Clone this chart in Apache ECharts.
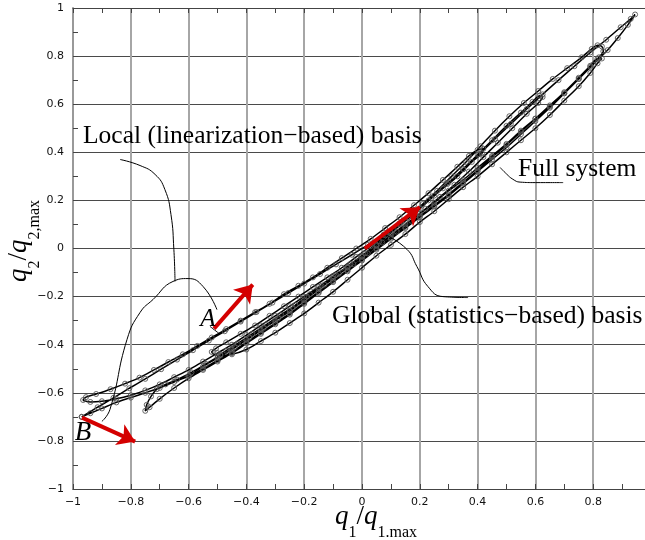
<!DOCTYPE html>
<html>
<head>
<meta charset="utf-8">
<script src="https://cdn.jsdelivr.net/npm/echarts@6/dist/echarts.min.js"></script>
<style>
  html, body { margin: 0; padding: 0; background: #fff; }
  #chart { width: 645px; height: 540px; }
</style>
</head>
<body>
<div id="chart"></div>
<script>
// trajectory of the full system
var swingUpB = [[-0.97,-0.70],[-0.915,-0.66],[-0.86,-0.621],[-0.805,-0.581],[-0.75,-0.542],[-0.695,-0.502],[-0.64,-0.462],[-0.585,-0.423],[-0.53,-0.383],[-0.475,-0.344],[-0.42,-0.304],[-0.365,-0.264],[-0.31,-0.225],[-0.255,-0.185],[-0.2,-0.146],[-0.145,-0.106],[-0.09,-0.066],[-0.035,-0.026],[0.02,0.015],[0.075,0.058],[0.13,0.105],[0.185,0.155],[0.24,0.21],[0.295,0.268],[0.35,0.33],[0.405,0.392],[0.46,0.455],[0.515,0.518],[0.57,0.58],[0.625,0.641],[0.68,0.70],[0.735,0.758],[0.79,0.815],[0.845,0.868],[0.895,0.92],[0.93,0.955],[0.945,0.973]];
var swingDownTip = [[0.92,0.93],[0.885,0.875],[0.85,0.825],[0.8,0.765],[0.75,0.705],[0.7,0.645],[0.65,0.585],[0.6,0.53],[0.55,0.475],[0.5,0.42],[0.45,0.37],[0.4,0.32],[0.35,0.27],[0.3,0.22],[0.25,0.175],[0.2,0.13],[0.15,0.085],[0.1,0.04],[0.05,-0.005],[0,-0.05],[-0.05,-0.095],[-0.1,-0.14],[-0.15,-0.185],[-0.2,-0.23],[-0.25,-0.275],[-0.3,-0.315],[-0.35,-0.355],[-0.4,-0.395],[-0.45,-0.435],[-0.5,-0.47],[-0.55,-0.505],[-0.6,-0.54],[-0.65,-0.58],[-0.7,-0.625],[-0.735,-0.66],[-0.75,-0.675],[-0.745,-0.65],[-0.73,-0.615],[-0.71,-0.585],[-0.68,-0.565]];
var swingUpHook = [[-0.64,-0.545],[-0.59,-0.515],[-0.54,-0.48],[-0.49,-0.445],[-0.44,-0.41],[-0.39,-0.37],[-0.34,-0.33],[-0.29,-0.29],[-0.24,-0.245],[-0.19,-0.2],[-0.14,-0.155],[-0.09,-0.11],[-0.04,-0.065],[0.01,-0.02],[0.06,0.03],[0.11,0.08],[0.16,0.13],[0.21,0.185],[0.26,0.24],[0.31,0.30],[0.36,0.36],[0.41,0.425],[0.46,0.49],[0.51,0.55],[0.56,0.605],[0.61,0.655],[0.66,0.705],[0.71,0.75],[0.76,0.795],[0.795,0.83],[0.815,0.845],[0.83,0.84],[0.835,0.82]];
var swingDownHook = [[0.82,0.795],[0.79,0.755],[0.75,0.705],[0.7,0.645],[0.65,0.59],[0.6,0.54],[0.55,0.49],[0.5,0.435],[0.45,0.385],[0.4,0.335],[0.35,0.285],[0.3,0.24],[0.25,0.19],[0.2,0.145],[0.15,0.1],[0.1,0.055],[0.05,0.01],[0,-0.03],[-0.05,-0.075],[-0.1,-0.115],[-0.15,-0.16],[-0.2,-0.2],[-0.25,-0.24],[-0.3,-0.28],[-0.35,-0.32],[-0.4,-0.36],[-0.45,-0.4],[-0.5,-0.435],[-0.55,-0.47],[-0.6,-0.505],[-0.65,-0.535],[-0.7,-0.565],[-0.75,-0.59],[-0.8,-0.61],[-0.85,-0.625],[-0.9,-0.635],[-0.94,-0.638],[-0.965,-0.63]];
var swingUpLeft = [[-0.955,-0.618],[-0.92,-0.605],[-0.87,-0.585],[-0.82,-0.562],[-0.77,-0.537],[-0.72,-0.505],[-0.67,-0.472],[-0.62,-0.44],[-0.57,-0.405],[-0.52,-0.37],[-0.47,-0.335],[-0.42,-0.3],[-0.37,-0.265],[-0.32,-0.23],[-0.27,-0.19],[-0.22,-0.155],[-0.17,-0.12],[-0.12,-0.08],[-0.07,-0.04],[-0.02,0],[0.03,0.04],[0.08,0.085],[0.13,0.13],[0.18,0.18],[0.23,0.23],[0.28,0.285],[0.33,0.34],[0.37,0.385],[0.4,0.41],[0.42,0.415]];
var swingDownKnot = [[0.415,0.395],[0.38,0.36],[0.33,0.3],[0.28,0.25],[0.23,0.2],[0.18,0.15],[0.13,0.1],[0.08,0.055],[0.03,0.01],[-0.02,-0.035],[-0.07,-0.08],[-0.12,-0.12],[-0.17,-0.16],[-0.22,-0.2],[-0.27,-0.24],[-0.32,-0.28],[-0.37,-0.32],[-0.42,-0.355],[-0.47,-0.39],[-0.505,-0.415],[-0.52,-0.43]];
var swingUpLow = [[-0.5,-0.445],[-0.45,-0.44],[-0.4,-0.42],[-0.35,-0.385],[-0.3,-0.35],[-0.25,-0.31],[-0.2,-0.27],[-0.15,-0.225],[-0.1,-0.18],[-0.05,-0.13],[0,-0.08],[0.05,-0.03],[0.1,0.015],[0.15,0.06],[0.2,0.11],[0.25,0.155],[0.3,0.205],[0.35,0.255],[0.4,0.3],[0.45,0.35],[0.5,0.4],[0.55,0.45],[0.6,0.5],[0.65,0.555],[0.7,0.615],[0.75,0.675],[0.79,0.73],[0.815,0.77],[0.83,0.79]];
var swingDownB = [[0.815,0.79],[0.79,0.76],[0.75,0.71],[0.7,0.65],[0.65,0.595],[0.6,0.54],[0.55,0.485],[0.5,0.43],[0.45,0.38],[0.4,0.325],[0.35,0.275],[0.3,0.225],[0.25,0.18],[0.2,0.135],[0.15,0.09],[0.1,0.045],[0.05,0],[0,-0.045],[-0.05,-0.09],[-0.1,-0.135],[-0.15,-0.18],[-0.2,-0.225],[-0.25,-0.27],[-0.3,-0.31],[-0.35,-0.35],[-0.4,-0.39],[-0.45,-0.43],[-0.5,-0.465],[-0.55,-0.5],[-0.6,-0.53],[-0.65,-0.555],[-0.7,-0.58],[-0.75,-0.6],[-0.8,-0.62],[-0.85,-0.64],[-0.9,-0.665],[-0.94,-0.685],[-0.97,-0.70]];
// a shorter inner cycle of the same run
var swingUpInner = [[-0.6,-0.53],[-0.55,-0.49],[-0.5,-0.455],[-0.45,-0.42],[-0.4,-0.38],[-0.35,-0.34],[-0.3,-0.3],[-0.25,-0.26],[-0.2,-0.215],[-0.15,-0.17],[-0.1,-0.125],[-0.05,-0.08],[0,-0.035],[0.05,0.015],[0.1,0.065],[0.15,0.115],[0.2,0.165],[0.25,0.22],[0.3,0.275],[0.35,0.33],[0.4,0.39],[0.45,0.45],[0.5,0.51],[0.55,0.565],[0.59,0.61],[0.615,0.635],[0.625,0.63]];
var swingDownInner = [[0.61,0.605],[0.57,0.56],[0.52,0.5],[0.47,0.44],[0.42,0.38],[0.37,0.32],[0.32,0.265],[0.27,0.215],[0.22,0.165],[0.17,0.115],[0.12,0.07],[0.07,0.025],[0.02,-0.02],[-0.03,-0.065],[-0.08,-0.105],[-0.13,-0.15],[-0.18,-0.19],[-0.23,-0.235],[-0.28,-0.275],[-0.33,-0.315],[-0.38,-0.355],[-0.43,-0.395],[-0.47,-0.425],[-0.49,-0.44]];

// basis vectors (red arrows): start and tip
var arrowGlobal = [[0.01,0.0],[0.2,0.172]];
var arrowA = [[-0.512,-0.333],[-0.378,-0.15]];
var arrowB = [[-0.969,-0.703],[-0.785,-0.803]];

// leader lines from the labels
var leadLocal = [[-0.837,0.37],[-0.768,0.345],[-0.716,0.308],[-0.682,0.245],[-0.661,0.141],[-0.651,-0.004],[-0.647,-0.137]];
var leadLocalArc = [[-0.9,-0.719],[-0.872,-0.669],[-0.813,-0.378],[-0.768,-0.266],[-0.723,-0.212],[-0.654,-0.137],[-0.602,-0.125],[-0.55,-0.158],[-0.502,-0.254]];
var leadFull = [[0.478,0.337],[0.5,0.31],[0.522,0.288],[0.547,0.276],[0.6,0.274],[0.696,0.274]];
var leadGlobal = [[0.08,0.058],[0.156,-0.004],[0.19,-0.075],[0.228,-0.158],[0.28,-0.2],[0.367,-0.204]];
var markA = [[-0.526,-0.324],[-0.495,-0.353]];

var xTicks = { min: -1, max: 1, step: 0.2 };

var trajectory = [].concat(swingUpB, swingDownTip, swingUpHook, swingDownHook,
  swingUpLeft, swingDownKnot, swingUpLow, swingDownB);
var innerCycle = [].concat(swingUpInner, swingDownInner);

var chart = echarts.init(document.getElementById('chart'));

function fmt(v) {
  return String(+v.toFixed(1)).replace('-', '\u2212');
}

var serif = 'Liberation Serif';
var tickFont = { color: '#111', fontFamily: 'DejaVu Sans', fontSize: 11 };
var labelFont = '25.5px "Liberation Serif"';

var qRich = {
  q: { fontFamily: serif, fontStyle: 'italic', fontSize: 27, lineHeight: 48, verticalAlign: 'middle', color: '#000' },
  sl: { fontFamily: serif, fontSize: 27, lineHeight: 48, verticalAlign: 'middle', color: '#000' },
  s: { fontFamily: serif, fontSize: 16, lineHeight: 18, verticalAlign: 'bottom', color: '#000' }
};

function path(data) {
  return {
    type: 'line', data: data, smooth: 0.3, z: 3,
    symbol: 'circle', symbolSize: 5, showAllSymbol: true,
    lineStyle: { color: '#000', width: 1.5 },
    itemStyle: { color: 'rgba(255,255,255,0)', borderColor: '#555', borderWidth: 0.9 }
  };
}

function leader(data) {
  return {
    type: 'line', data: data, smooth: true, showSymbol: false, silent: true,
    lineStyle: { color: '#000', width: 1 }, z: 4
  };
}

function arrow(seg) {
  return {
    type: 'lines', coordinateSystem: 'cartesian2d', silent: true, z: 6,
    symbol: ['none', 'arrow'], symbolSize: 17,
    lineStyle: { color: '#d40000', width: 4, opacity: 1 },
    data: [{ coords: seg }]
  };
}

var option = {
  animation: false,
  grid: { left: 73, top: 8, width: 578, height: 481, outerBoundsMode: 'none' },
  xAxis: [{
    type: 'value', min: xTicks.min, max: xTicks.max, interval: xTicks.step,
    axisLine: { onZero: false, lineStyle: { color: '#444', width: 1 } },
    axisTick: { inside: true, length: 5, lineStyle: { color: '#444' } },
    minorTick: { show: true, splitNumber: 2, length: 5, lineStyle: { color: '#444' } },
    axisLabel: Object.assign({ margin: 8, formatter: fmt }, tickFont),
    splitLine: { show: true, lineStyle: { color: '#a6a6a6', width: 2 } }
  }, {
    type: 'value', position: 'top', min: xTicks.min, max: xTicks.max, interval: xTicks.step,
    axisLine: { onZero: false, lineStyle: { color: '#444', width: 1 } },
    axisTick: { inside: true, length: 5, lineStyle: { color: '#444' } },
    minorTick: { show: true, splitNumber: 2, length: 5, lineStyle: { color: '#444' } },
    axisLabel: { show: false },
    splitLine: { show: false }
  }],
  yAxis: {
    type: 'value', min: -1, max: 1, interval: 0.2,
    axisLine: { onZero: false, lineStyle: { color: '#999', width: 2 } },
    axisTick: { inside: true, length: 5, lineStyle: { color: '#444' } },
    minorTick: { show: true, splitNumber: 2, length: 5, lineStyle: { color: '#444' } },
    axisLabel: Object.assign({ margin: 9, formatter: fmt }, tickFont),
    splitLine: { show: true, lineStyle: { color: '#4a4a4a', width: 1 } }
  },
  series: [
    path(trajectory), path(innerCycle),
    leader(leadLocal), leader(leadLocalArc), leader(leadFull), leader(leadGlobal), leader(markA),
    arrow(arrowGlobal), arrow(arrowA), arrow(arrowB)
  ],
  graphic: [
    { type: 'text', x: 83, y: 136, z: 10, style: { text: 'Local (linearization\u2212based) basis', font: labelFont, fill: '#000', verticalAlign: 'middle' } },
    { type: 'text', x: 518, y: 169, z: 10, style: { text: 'Full system', font: labelFont, fill: '#000', verticalAlign: 'middle' } },
    { type: 'text', x: 332, y: 316, z: 10, style: { text: 'Global (statistics\u2212based) basis', font: labelFont, fill: '#000', verticalAlign: 'middle' } },
    { type: 'text', x: 208, y: 319, z: 10, style: { text: 'A', font: 'italic 25px "Liberation Serif"', fill: '#000', align: 'center', verticalAlign: 'middle' } },
    { type: 'text', x: 83, y: 433, z: 10, style: { text: 'B', font: 'italic 27px "Liberation Serif"', fill: '#000', align: 'center', verticalAlign: 'middle' } },
    { type: 'text', x: 376, y: 517, z: 10, style: { text: '{q|q}{s|1}{sl|/}{q|q}{s|1.max}', rich: qRich, align: 'center', verticalAlign: 'middle' } },
    { type: 'text', x: 19, y: 241, rotation: Math.PI / 2, z: 10, style: { text: '{q|q}{s|2}{sl|/}{q|q}{s|2,max}', rich: qRich, align: 'center', verticalAlign: 'middle' } }
  ]
};

chart.setOption(option);
</script>
</body>
</html>
